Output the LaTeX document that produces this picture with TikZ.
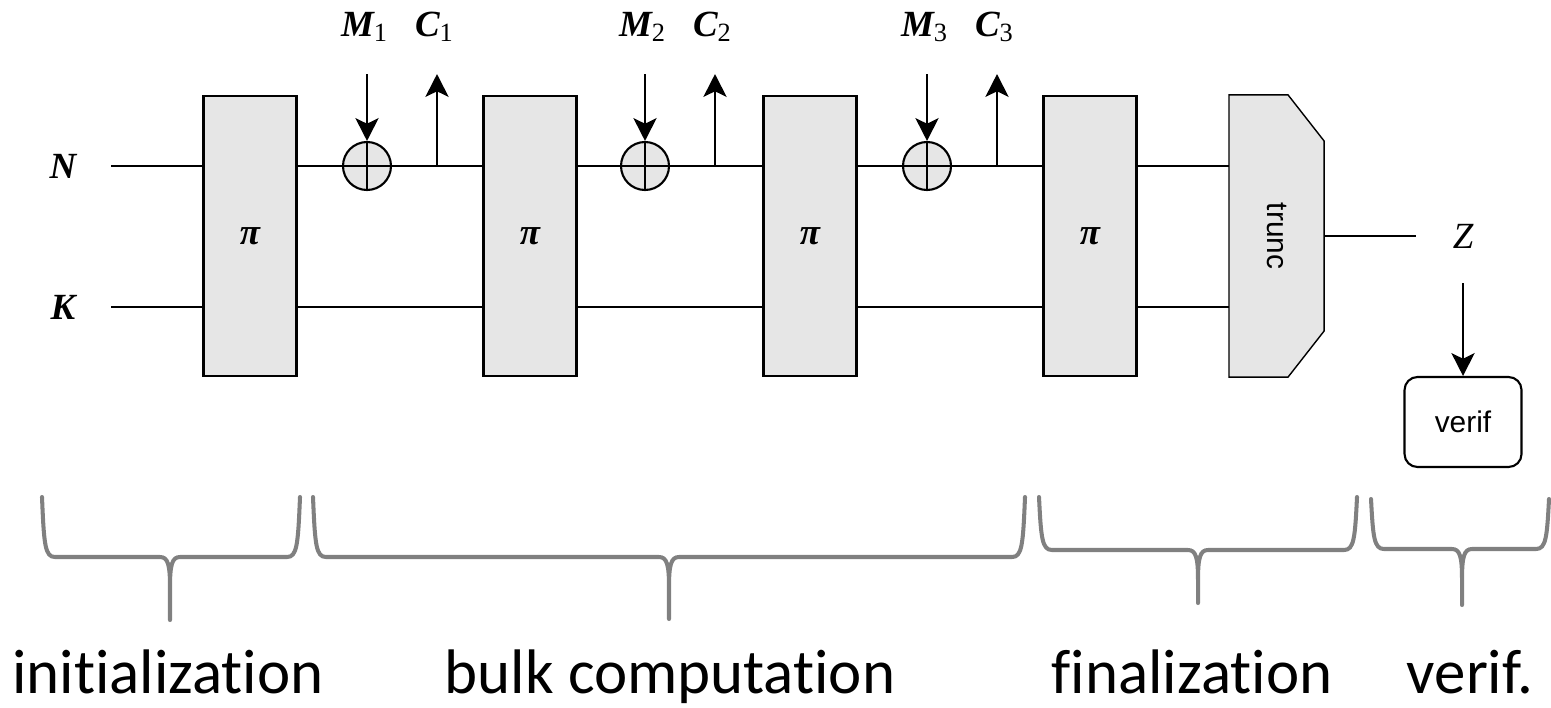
\documentclass[tikz,border=0pt]{standalone}
\usepackage{fontspec}
\setmainfont{Carlito}[Ligatures=NoCommon,RawFeature={-liga;-clig;-calt;-dlig}]
\newfontfamily\timesfont{Liberation Serif}
\newfontfamily\helvfont{Liberation Sans}
\usepackage{xcolor}
\usetikzlibrary{positioning,arrows.meta,backgrounds,calc}
\definecolor{blockgray}{RGB}{230,230,230}
\definecolor{bracegray}{RGB}{128,128,128}
\newcommand{\vname}[2]{{\bfseries\itshape #1}\raisebox{-1.5pt}{\fontsize{7.5}{8}\selectfont #2}}

\begin{document}
\begin{tikzpicture}[
  font=\timesfont\fontsize{10.5}{12}\selectfont,
  line width=0.6pt,
  block/.style={draw, fill=blockgray, minimum width=0.93cm, minimum height=2.80cm, inner sep=0pt},
  xorop/.style={draw, circle, fill=blockgray, minimum size=0.48cm, inner sep=0pt},
  wirelbl/.style={minimum width=0.94cm, inner sep=0pt},
  iolbl/.style={minimum height=0.92cm, inner sep=0pt},
  sanslbl/.style={font=\helvfont\fontsize{8.5}{10}\selectfont},
  phase/.style={font=\normalfont\fontsize{17.9}{20}\selectfont, anchor=base},
  brace/.style={draw=bracegray, line width=1.15pt, line cap=round, line join=round},
  >={Stealth[length=6.5pt, width=6.6pt, inset=1.6pt]}]
\useasboundingbox (0,0) rectangle (15.51,-7.07);
% state words and the permutation calls
\node[wirelbl] (n) at (0.63,-1.66) {\bfseries\itshape N};
\node[wirelbl] (k) at (0.63,-3.07) {\bfseries\itshape K};
\node[block] (p1) at (2.50,-2.36) {\bfseries\itshape π};
\node[block] (p2) at (5.30,-2.36) {\bfseries\itshape π};
\node[block] (p3) at (8.10,-2.36) {\bfseries\itshape π};
\node[block] (p4) at (10.90,-2.36) {\bfseries\itshape π};
\node[block,draw=none,fill=none] (trunc) at (12.765,-2.36) {};
\node[sanslbl,rotate=-90] (trunctxt) at (trunc.center) {trunc};
\begin{scope}[on background layer]
\draw[fill=blockgray] (trunc.north west) -- ($(trunc.north east)+(-0.36,0)$) -- ($(trunc.north east)+(0,-0.46)$)
  -- ($(trunc.south east)+(0,0.46)$) -- ($(trunc.south east)+(-0.36,0)$) -- (trunc.south west) -- cycle;
\draw (n) -- (n -| trunc.west);
\draw (k) -- (k -| trunc.west);
\end{scope}
% absorb M_i, squeeze C_i
\foreach \i/\xx in {1/3.67, 2/6.45, 3/9.27} {
  \node[xorop] (x\i) at (\xx,-1.66) {};
  \draw (x\i.north) -- (x\i.south) (x\i.west) -- (x\i.east);
  \coordinate (t\i) at (\xx+0.70,-1.66);
  \node[iolbl] (m\i) at (\xx-0.03,-0.27) {\vname{M}{\i}};
  \node[iolbl] (c\i) at (\xx+0.67,-0.27) {\vname{C}{\i}};
  \draw[->] (x\i |- m\i.south) -- (x\i.north);
  \draw[->] (t\i) -- (t\i |- c\i.south);
}
% tag and check
\node[iolbl,minimum width=0.92cm] (z) at (14.63,-2.36) {\itshape Z};
\node[draw,rounded corners=0.13cm,minimum width=1.17cm,minimum height=0.90cm,sanslbl] (verif) at (14.63,-4.22) {verif};
\draw (trunc.east) -- (z.west);
\draw[->] (z.south) -- (verif.north);
% phases
\foreach \xl/\xr/\xc/\yt/\ym/\yb in {0.42/3.00/1.70/-4.97/-5.57/-6.20, 3.13/10.25/6.69/-4.97/-5.57/-6.19,
    10.39/13.57/11.98/-4.97/-5.50/-6.03, 13.71/15.49/14.62/-4.99/-5.49/-6.05}
  \draw[brace] (\xl,\yt) .. controls (\xl+0.02,\ym+0.12) and (\xl+0.03,\ym) .. (\xl+0.13,\ym) -- (\xc-0.1,\ym)
    .. controls (\xc-0.02,\ym) and (\xc,\ym-0.08) .. (\xc,\ym-0.3) -- (\xc,\yb) -- (\xc,\ym-0.3)
    .. controls (\xc,\ym-0.08) and (\xc+0.02,\ym) .. (\xc+0.1,\ym) -- (\xr-0.13,\ym)
    .. controls (\xr-0.03,\ym) and (\xr-0.02,\ym+0.12) .. (\xr,\yt);
\node[phase] (init) at (1.68,-6.93) {initialization};
\node[phase] (bulk) at (6.70,-6.93) {bulk computation};
\node[phase] (final) at (11.92,-6.93) {finalization};
\node[phase] (check) at (14.70,-6.93) {verif.};
\end{tikzpicture}
\end{document}
